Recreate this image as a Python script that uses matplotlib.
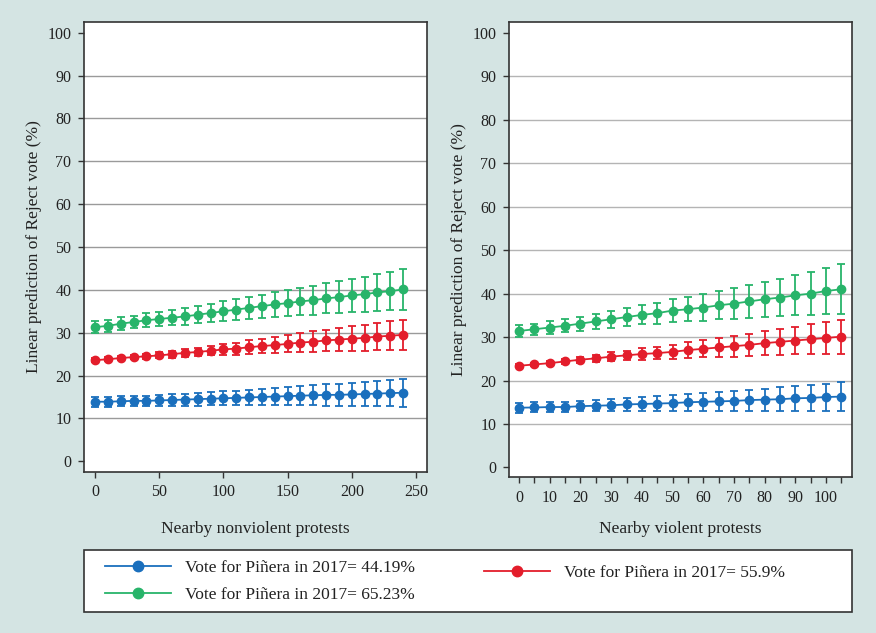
import matplotlib.pyplot as plt
from matplotlib.patches import Rectangle
import numpy as np

plt.rcParams['font.family'] = ['Liberation Serif', 'DejaVu Serif']

# Protestas no violentas (panel izquierdo)
x_nv = list(range(0, 250, 10))
verde_nv = [31.3, 31.6, 32.1, 32.5, 32.9, 33.2, 33.5, 33.8, 34.2, 34.6, 35.0, 35.4, 35.8,
            36.2, 36.6, 36.9, 37.3, 37.6, 38.0, 38.3, 38.7, 39.0, 39.4, 39.7, 40.1]
verde_nv_ic = [1.4, 1.4, 1.5, 1.5, 1.6, 1.7, 1.8, 1.9, 2.0, 2.1, 2.3, 2.4, 2.6,
               2.7, 2.9, 3.0, 3.2, 3.4, 3.5, 3.7, 3.9, 4.1, 4.3, 4.5, 4.7]
rojo_nv = [23.6, 23.8, 24.1, 24.3, 24.5, 24.7, 25.0, 25.3, 25.5, 25.8, 26.1, 26.3, 26.6,
           26.9, 27.1, 27.4, 27.7, 27.9, 28.2, 28.4, 28.6, 28.8, 29.1, 29.3, 29.5]
rojo_nv_ic = [0.5, 0.5, 0.5, 0.5, 0.6, 0.7, 0.8, 0.9, 1.0, 1.1, 1.3, 1.4, 1.6,
              1.7, 1.9, 2.0, 2.2, 2.4, 2.5, 2.7, 2.9, 3.0, 3.2, 3.4, 3.5]
azul_nv = [13.9, 13.9, 14.0, 14.1, 14.1, 14.2, 14.3, 14.4, 14.5, 14.6, 14.7, 14.8, 14.9,
           15.0, 15.1, 15.2, 15.3, 15.4, 15.5, 15.5, 15.6, 15.7, 15.8, 15.9, 16.0]
azul_nv_ic = [1.2, 1.2, 1.2, 1.2, 1.2, 1.3, 1.3, 1.4, 1.5, 1.5, 1.6, 1.7, 1.8,
              1.9, 2.0, 2.1, 2.2, 2.3, 2.5, 2.6, 2.7, 2.8, 3.0, 3.1, 3.3]

# Protestas violentas (panel derecho)
x_v = list(range(0, 110, 5))
verde_v = [31.4, 31.8, 32.2, 32.6, 33.1, 33.6, 34.1, 34.6, 35.1, 35.5, 36.1,
           36.4, 36.8, 37.3, 37.7, 38.2, 38.7, 39.1, 39.6, 40.0, 40.6, 41.0]
verde_v_ic = [1.3, 1.3, 1.4, 1.5, 1.6, 1.7, 1.9, 2.0, 2.2, 2.4, 2.6,
              2.8, 3.0, 3.2, 3.5, 3.7, 4.0, 4.3, 4.6, 4.9, 5.3, 5.8]
rojo_v = [23.4, 23.7, 24.0, 24.4, 24.8, 25.1, 25.5, 25.8, 26.1, 26.3, 26.6,
          27.0, 27.3, 27.6, 27.9, 28.2, 28.6, 28.9, 29.2, 29.5, 29.8, 30.1]
rojo_v_ic = [0.4, 0.4, 0.5, 0.6, 0.7, 0.8, 1.0, 1.1, 1.3, 1.4, 1.6,
             1.8, 2.0, 2.2, 2.4, 2.6, 2.8, 3.0, 3.2, 3.4, 3.7, 3.9]
azul_v = [13.75, 13.8, 13.9, 13.9, 14.1, 14.2, 14.3, 14.5, 14.6, 14.7, 14.8,
          15.0, 15.1, 15.2, 15.3, 15.5, 15.6, 15.7, 15.9, 16.0, 16.2, 16.3]
azul_v_ic = [1.15, 1.15, 1.2, 1.2, 1.2, 1.3, 1.4, 1.5, 1.6, 1.7, 1.8,
             1.9, 2.0, 2.2, 2.3, 2.4, 2.5, 2.7, 2.8, 3.0, 3.1, 3.3]

etiquetas = ['Vote for Piñera in 2017= 44.19%',
             'Vote for Piñera in 2017= 65.23%',
             'Vote for Piñera in 2017= 55.9%']
col_azul = '#1a6fbd'
col_verde = '#28b46a'
col_rojo = '#e31d2b'
fondo = '#d4e4e3'
borde = '#333333'
texto = '#222222'
fs = 12.5

fig = plt.figure(figsize=(8.76, 6.33), dpi=100, facecolor=fondo)
ax1 = fig.add_axes([84 / 876, 1 - 472 / 633, 343 / 876, 450 / 633])
ax2 = fig.add_axes([509 / 876, 1 - 477 / 633, 343 / 876, 455 / 633])


def dibujar(ax, x, series, gris):
    lineas = []
    for y, ic, color in series:
        ax.errorbar(x, y, yerr=ic, fmt='none', ecolor=color, elinewidth=1.3,
                    capsize=3, capthick=1.3, zorder=2)
        l, = ax.plot(x, y, '-o', color=color, lw=1.3, ms=6, zorder=3)
        lineas.append(l)
    ax.set_yticks(np.arange(0, 101, 10))
    for v in range(10, 100, 10):
        ax.axhline(v, color=gris, lw=1, zorder=1)
    for s in ax.spines.values():
        s.set_color(borde)
        s.set_linewidth(1.2)
    ax.tick_params(colors=borde, labelcolor=texto, labelsize=11.5, length=4, width=1, pad=5)
    ax.set_ylabel('Linear prediction of Reject vote (%)', fontsize=fs, color=texto)
    return lineas


lineas = dibujar(ax1, x_nv, [(azul_nv, azul_nv_ic, col_azul),
                             (verde_nv, verde_nv_ic, col_verde),
                             (rojo_nv, rojo_nv_ic, col_rojo)], '#9a9a9a')
ax1.set_xlim(-8.6, 258.6)
ax1.set_ylim(-2.5, 102.5)
ax1.set_xticks(np.arange(0, 251, 50))
ax1.set_xlabel('Nearby nonviolent protests', fontsize=fs, color=texto, labelpad=14.5)

dibujar(ax2, x_v, [(azul_v, azul_v_ic, col_azul),
                   (verde_v, verde_v_ic, col_verde),
                   (rojo_v, rojo_v_ic, col_rojo)], '#b4b4b4')
ax2.set_xlim(-3.3, 108.5)
ax2.set_ylim(-2.2, 102.5)
ax2.set_xticks(np.arange(0, 101, 10))
ax2.set_xticks(np.arange(0, 106, 5), minor=True)
ax2.tick_params(which='minor', colors=borde, length=4, width=1)
ax2.set_xlabel('Nearby violent protests', fontsize=fs, color=texto, labelpad=11)

# Caja de la leyenda
fig.patches.append(Rectangle((84 / 876, 1 - 612 / 633), 768 / 876, 62 / 633,
                             transform=fig.transFigure, facecolor='white',
                             edgecolor=borde, lw=1.2, zorder=0))

opciones = dict(loc='upper left', frameon=False, fontsize=fs, handlelength=3.8,
                handletextpad=0.8, borderpad=0, borderaxespad=0, labelspacing=0.62,
                labelcolor=texto, markerscale=1.25)
fig.legend(lineas[:2], etiquetas[:2], bbox_to_anchor=(105 / 876, 1 - 560 / 633), **opciones)
fig.legend(lineas[2:], etiquetas[2:], bbox_to_anchor=(484 / 876, 1 - 565 / 633), **opciones)

fig.savefig('out.png', dpi=100, facecolor=fondo)
